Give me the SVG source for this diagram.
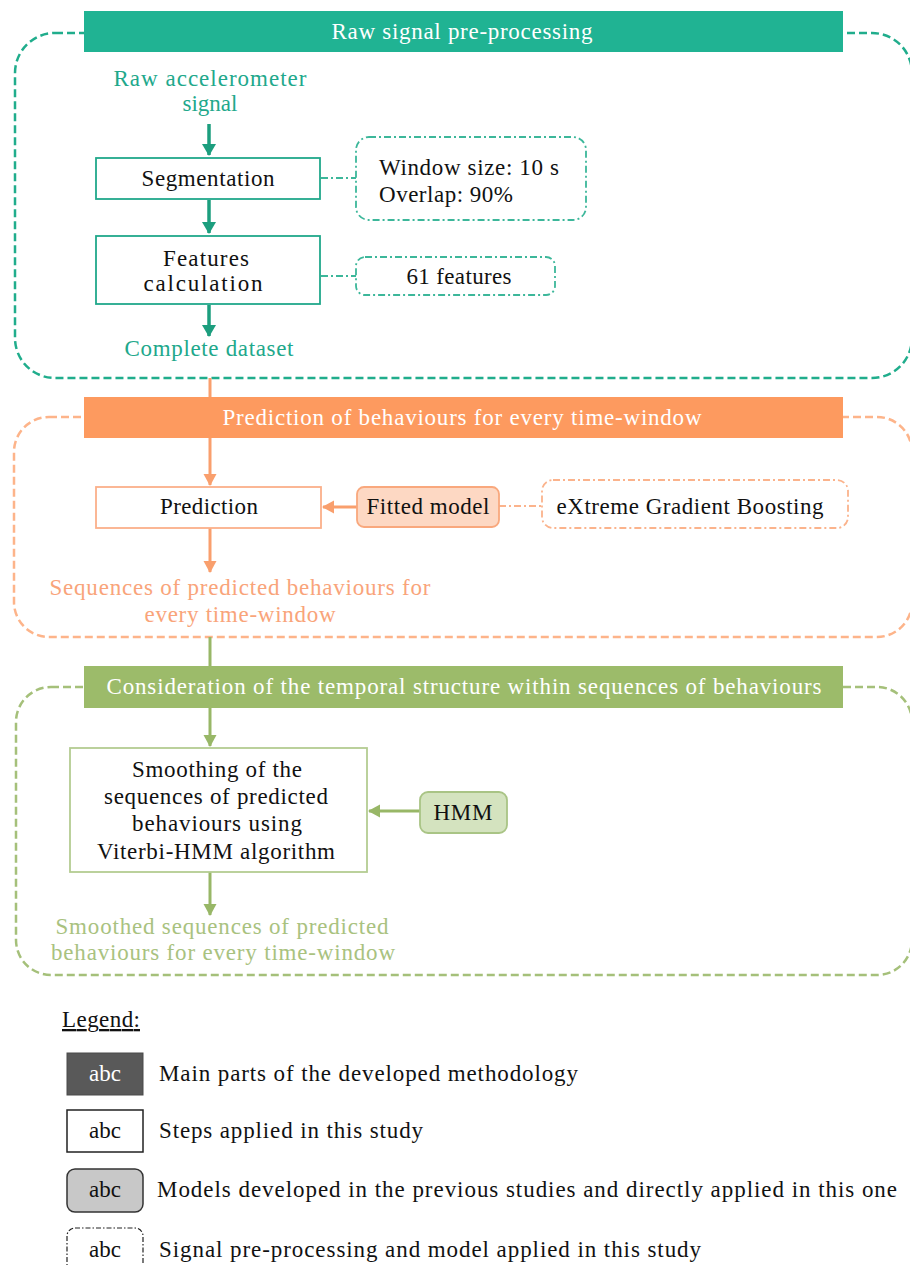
<svg xmlns="http://www.w3.org/2000/svg" width="910" height="1265" viewBox="0 0 910 1265">
<defs>
<style>
text{font-family:"Liberation Serif","Times New Roman",serif;font-size:23px;}
.c{text-anchor:middle;}
.w{fill:#ffffff;}
.k{fill:#111111;}
.tt{fill:#21a88b;}
.ot{fill:#f9a47a;}
.gt{fill:#a9c27f;}
.secT{fill:none;stroke:#20ad8c;stroke-width:2.5;stroke-dasharray:8,4;}
.secO{fill:none;stroke:#fdb48a;stroke-width:2.5;stroke-dasharray:8,4;}
.secG{fill:none;stroke:#a5c07a;stroke-width:2.5;stroke-dasharray:8,4;}
.ddT{fill:none;stroke:#3cb79a;stroke-width:1.8;stroke-dasharray:7,3,2,3;}
.ddO{fill:none;stroke:#fbb38c;stroke-width:1.8;stroke-dasharray:7,3,2,3;}
.arT{stroke:#1c9e7e;stroke-width:3.5;fill:none;}
.arO{stroke:#f99f6d;stroke-width:3;fill:none;}
.arG{stroke:#98b767;stroke-width:3;fill:none;}
</style>
<marker id="mT" markerUnits="userSpaceOnUse" markerWidth="14" markerHeight="14" refX="11" refY="7" orient="auto"><path d="M0,0 L12,7 L0,14 z" fill="#1c9e7e"/></marker>
<marker id="mO" markerUnits="userSpaceOnUse" markerWidth="14" markerHeight="14" refX="11" refY="7" orient="auto"><path d="M0,0.5 L12,7 L0,13.5 z" fill="#f99f6d"/></marker>
<marker id="mG" markerUnits="userSpaceOnUse" markerWidth="14" markerHeight="14" refX="11" refY="7" orient="auto"><path d="M0,0.5 L12,7 L0,13.5 z" fill="#98b767"/></marker>
</defs>
<rect width="910" height="1265" fill="#ffffff"/>

<!-- section outlines -->
<g id="sections">
<rect class="secT" x="15" y="33" width="897" height="345" rx="40" ry="40"/>
<rect class="secO" x="14" y="417" width="898" height="220" rx="35" ry="35"/>
<rect class="secG" x="16" y="687" width="896" height="288" rx="35" ry="35"/>
</g>

<!-- connectors -->
<g id="connectors">
<line class="arT" x1="209" y1="124" x2="209" y2="155" marker-end="url(#mT)"/>
<line class="arT" x1="209" y1="200" x2="209" y2="233" marker-end="url(#mT)"/>
<line class="arT" x1="209" y1="305" x2="209" y2="336" marker-end="url(#mT)"/>
<line class="ddT" x1="321" y1="178" x2="356" y2="178"/>
<line class="ddT" x1="321" y1="276" x2="356" y2="276"/>
<line class="arO" x1="210" y1="378" x2="210" y2="397"/>
<line class="arO" x1="210" y1="438" x2="210" y2="485" marker-end="url(#mO)"/>
<line class="arO" x1="357" y1="507" x2="323" y2="507" marker-end="url(#mO)"/>
<line class="ddO" x1="499" y1="506" x2="542" y2="506"/>
<line class="arO" x1="210" y1="528" x2="210" y2="572" marker-end="url(#mO)"/>
<line class="arG" x1="210" y1="637" x2="210" y2="666"/>
<line class="arG" x1="210" y1="708" x2="210" y2="746" marker-end="url(#mG)"/>
<line class="arG" x1="420" y1="811" x2="369" y2="811" marker-end="url(#mG)"/>
<line class="arG" x1="210" y1="872" x2="210" y2="915" marker-end="url(#mG)"/>
</g>

<!-- Section 1 -->
<g id="hdr1">
<rect x="84" y="11" width="759" height="41" fill="#20b393"/>
<text class="c w" x="462" y="39" textLength="261" lengthAdjust="spacing">Raw signal pre-processing</text>
</g>
<g id="raw">
<text class="c tt" x="210" y="86" textLength="193" lengthAdjust="spacing">Raw accelerometer</text>
<text class="c tt" x="210" y="111">signal</text>
</g>
<g id="seg">
<rect x="96" y="158" width="224" height="41" fill="#ffffff" stroke="#21a88b" stroke-width="1.8"/>
<text class="c k" x="208" y="186" textLength="133" lengthAdjust="spacing">Segmentation</text>
</g>
<g id="win">
<rect class="ddT" x="356" y="137" width="230" height="83" rx="13" ry="13"/>
<text class="k" x="379" y="175" textLength="180" lengthAdjust="spacing">Window size: 10 s</text>
<text class="k" x="379" y="202" textLength="134" lengthAdjust="spacing">Overlap: 90%</text>
</g>
<g id="feat">
<rect x="96" y="236" width="224" height="68" fill="#ffffff" stroke="#21a88b" stroke-width="1.8"/>
<text class="c k" x="206" y="266" textLength="86" lengthAdjust="spacing">Features</text>
<text class="c k" x="203" y="291" textLength="119" lengthAdjust="spacing">calculation</text>
</g>
<g id="f61">
<rect class="ddT" x="356" y="257" width="199" height="38" rx="9" ry="9"/>
<text class="c k" x="459" y="284" textLength="105" lengthAdjust="spacing">61 features</text>
</g>
<g id="complete">
<text class="c tt" x="209" y="356" textLength="169" lengthAdjust="spacing">Complete dataset</text>
</g>

<!-- Section 2 -->
<g id="hdr2">
<rect x="84" y="397" width="759" height="41" fill="#fd9a5f"/>
<text class="c w" x="462" y="425" textLength="479" lengthAdjust="spacing">Prediction of behaviours for every time-window</text>
</g>
<g id="pred">
<rect x="96" y="487" width="225" height="41" fill="#ffffff" stroke="#fbb08a" stroke-width="1.8"/>
<text class="c k" x="209" y="514" textLength="98" lengthAdjust="spacing">Prediction</text>
</g>
<g id="fitted">
<rect x="357" y="487" width="142" height="40" rx="7" ry="7" fill="#fdd8c3" stroke="#f9a87d" stroke-width="1.8"/>
<text class="c k" x="428" y="514" textLength="123" lengthAdjust="spacing">Fitted model</text>
</g>
<g id="xgb">
<rect class="ddO" x="542" y="480" width="306" height="48" rx="11" ry="11"/>
<text class="c k" x="690" y="514" textLength="267" lengthAdjust="spacing">eXtreme Gradient Boosting</text>
</g>
<g id="seqpred">
<text class="c ot" x="240" y="595" textLength="381" lengthAdjust="spacing">Sequences of predicted behaviours for</text>
<text class="c ot" x="240" y="622" textLength="191" lengthAdjust="spacing">every time-window</text>
</g>

<!-- Section 3 -->
<g id="hdr3">
<rect x="84" y="666" width="759" height="42" fill="#9cbb6a"/>
<text class="c w" x="464" y="694" textLength="715" lengthAdjust="spacing">Consideration of the temporal structure within sequences of behaviours</text>
</g>
<g id="smooth">
<rect x="70" y="748" width="297" height="124" fill="#ffffff" stroke="#b4cc92" stroke-width="1.8"/>
<text class="c k" x="217" y="777" textLength="170" lengthAdjust="spacing">Smoothing of the</text>
<text class="c k" x="216" y="804" textLength="224" lengthAdjust="spacing">sequences of predicted</text>
<text class="c k" x="217" y="831" textLength="170" lengthAdjust="spacing">behaviours using</text>
<text class="c k" x="216" y="859" textLength="238" lengthAdjust="spacing">Viterbi-HMM algorithm</text>
</g>
<g id="hmm">
<rect x="420" y="792" width="87" height="41" rx="8" ry="8" fill="#d4e3bf" stroke="#a9c485" stroke-width="1.8"/>
<text class="c k" x="463" y="820" textLength="59" lengthAdjust="spacing">HMM</text>
</g>
<g id="smoothed">
<text class="c gt" x="222" y="934" textLength="333" lengthAdjust="spacing">Smoothed sequences of predicted</text>
<text class="c gt" x="223" y="960" textLength="344" lengthAdjust="spacing">behaviours for every time-window</text>
</g>

<!-- Legend -->
<g id="legend">
<text class="k" x="62" y="1027" text-decoration="underline" textLength="78" lengthAdjust="spacing">Legend:</text>
<rect x="67" y="1053" width="76" height="42" fill="#595959" stroke="#4a4a4a" stroke-width="1"/>
<text class="c w" x="105" y="1081">abc</text>
<text class="k" x="159" y="1081" textLength="419" lengthAdjust="spacing">Main parts of the developed methodology</text>
<rect x="67" y="1110" width="76" height="42" fill="#ffffff" stroke="#222222" stroke-width="1.5"/>
<text class="c k" x="105" y="1138">abc</text>
<text class="k" x="159" y="1138" textLength="264" lengthAdjust="spacing">Steps applied in this study</text>
<rect x="67" y="1169" width="76" height="43" rx="8" ry="8" fill="#c8c8c8" stroke="#333333" stroke-width="1.5"/>
<text class="c k" x="105" y="1197">abc</text>
<text class="k" x="157" y="1197" textLength="740" lengthAdjust="spacing">Models developed in the previous studies and directly applied in this one</text>
<rect x="67" y="1228" width="76" height="50" rx="8" ry="8" fill="none" stroke="#222222" stroke-width="1.2" stroke-dasharray="5,2,1.5,2"/>
<text class="c k" x="105" y="1257">abc</text>
<text class="k" x="159" y="1257" textLength="542" lengthAdjust="spacing">Signal pre-processing and model applied in this study</text>
</g>
</svg>
